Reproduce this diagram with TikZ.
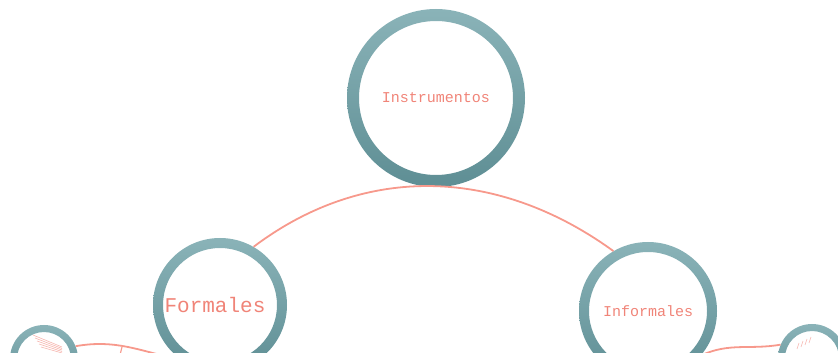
\documentclass[tikz,border=0pt]{standalone}
\usepackage{fontspec}
\setmonofont{Liberation Mono}
\definecolor{ringtop}{HTML}{8AB3B8}
\definecolor{ringbot}{HTML}{5E8E94}
\definecolor{salmon}{HTML}{F08478}
\definecolor{linkred}{HTML}{F7998C}

\tikzset{
  topic/.style={circle, inner sep=0pt, text=salmon},
  link/.style={draw=linkred, line width=1.8pt},
  ringshade/.style={top color=ringtop, bottom color=ringbot, even odd rule},
  scribble/.style={draw=salmon!60, line width=0.6pt},
}

\begin{document}
\begin{tikzpicture}[x=1pt,y=1pt]
\useasboundingbox (0,0) rectangle (838,353);
\clip (0,0) rectangle (838,353);

% main topics
\node[topic, minimum size=178pt, font=\ttfamily\fontsize{15}{15}\selectfont] (instr) at (436,255) {Instrumentos};
\node[topic, minimum size=134pt, font=\ttfamily\fontsize{21}{21}\selectfont] (formales) at (220,48) {\hspace*{-10pt}Formales};
\node[topic, minimum size=138pt, font=\ttfamily\fontsize{15}{15}\selectfont] (informales) at (648,42) {Informales};
% sub topics (cut by the frame)
\node[topic, minimum size=68pt] (leftsub) at (44,-6) {};
\node[topic, minimum size=68pt] (rightsub) at (812,-5) {};

% rings
\foreach \n/\r/\w in {instr/89/12, formales/67/10, informales/69/10, leftsub/34/7, rightsub/34/7}
  \shade[ringshade] (\n.center) circle (\r pt) circle ({(\r-\w)*1pt});

% paths
\draw[link] (formales.60) to[out=37, in=144] (informales.120);
\draw[link] (leftsub.22) to[out=10, in=168] (formales.235);
\draw[link] (informales.-40) to[out=25, in=190] (rightsub.157);
\coordinate (branch) at (122,6);
\coordinate (branchend) at (119,-6);
\draw[link, line width=1.2pt] (branch) -- (branchend);

% tiny unreadable text inside the small circles
\foreach \i in {0,...,4}
  \draw[scribble] (33+\i*2,18-\i*3) -- (62,6-\i*1.5);
\foreach \i in {0,...,3}
  \draw[scribble] (797+\i*4,4+\i*2) -- ++(2,6);
\end{tikzpicture}
\end{document}
